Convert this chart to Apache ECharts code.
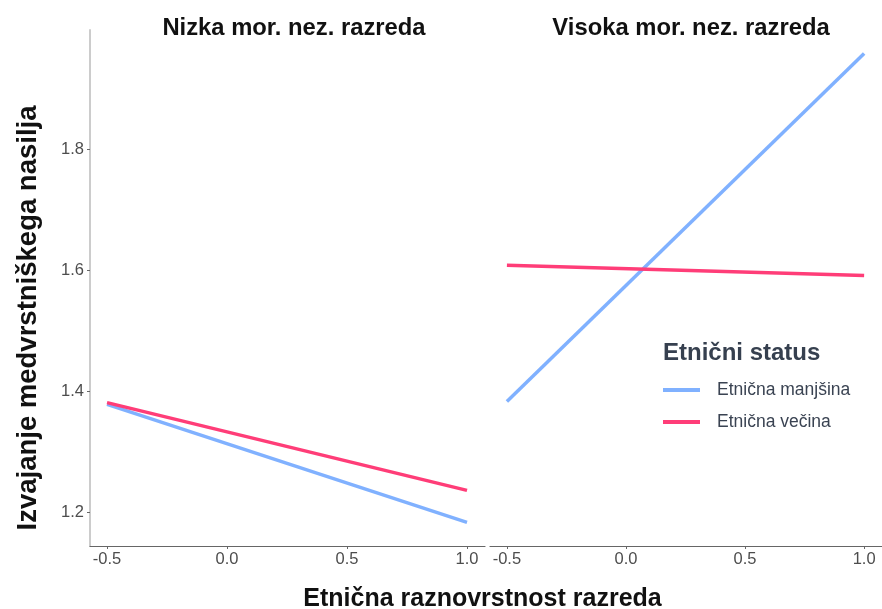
<!DOCTYPE html>
<html><head><meta charset="utf-8">
<script src="https://cdn.jsdelivr.net/npm/echarts@6/dist/echarts.min.js"></script>
<style>html,body{margin:0;padding:0;background:#fff}#c{width:882px;height:609px}</style>
</head><body><div id="c"></div>
<script>
const panels = ['Nizka mor. nez. razreda', 'Visoka mor. nez. razreda'];
const groups = ['Etnična manjšina', 'Etnična večina'];
const xPoints = [-0.5, 1.0];
const lowMinority = [1.378, 1.183];
const lowMajority = [1.381, 1.236];
const highMinority = [1.383, 1.958];
const highMajority = [1.608, 1.591];
const xTicks = [-0.5, 0.0, 0.5, 1.0];
const yTicks = [1.2, 1.4, 1.6, 1.8];
const colors = ['#80b1ff', '#ff3d78'];

const font = 'Liberation Sans, Arial, sans-serif';
const pairs = (ys) => xPoints.map((x, i) => [x, ys[i]]);

const chart = echarts.init(document.getElementById('c'));
const xAxisBase = (gi) => ({
  type: 'value', gridIndex: gi, min: -0.571, max: 1.075,
  splitLine: {show: false},
  axisLine: {show: true, onZero: false, lineStyle: {color: '#666', width: 1.2}},
  axisTick: {show: true, customValues: xTicks, length: 3, lineStyle: {color: '#666'}},
  axisLabel: {customValues: xTicks, color: '#4d4d4d', fontSize: 16.5, fontFamily: font, margin: 5,
    formatter: v => v.toFixed(1)}
});
chart.setOption({
  animation: false,
  title: [
    {text: panels[0], left: 289, top: 11, textAlign: 'center',
      textStyle: {fontSize: 23.8, fontWeight: 'bold', color: '#111', fontFamily: font}},
    {text: panels[1], left: 686, top: 11, textAlign: 'center',
      textStyle: {fontSize: 23.8, fontWeight: 'bold', color: '#111', fontFamily: font}}
  ],
  grid: [
    {left: 90, width: 395, top: 30, height: 516, outerBoundsMode: 'none', containLabel: false},
    {left: 490, width: 392, top: 30, height: 516, outerBoundsMode: 'none', containLabel: false}
  ],
  xAxis: [
    Object.assign(xAxisBase(0), {name: 'Etnična raznovrstnost razreda', nameLocation: 'middle', nameGap: 41,
      nameTextStyle: {fontSize: 25, fontWeight: 'bold', color: '#111', fontFamily: font, padding: [0, 0, 0, 390]}}),
    xAxisBase(1)
  ],
  yAxis: [
    {type: 'value', gridIndex: 0, min: 1.144, max: 1.997,
      splitLine: {show: false},
      axisLine: {show: true, onZero: false, lineStyle: {color: '#cccccc', width: 2}},
      axisTick: {show: true, customValues: yTicks, length: 3, lineStyle: {color: '#666'}},
      axisLabel: {customValues: yTicks, color: '#4d4d4d', fontSize: 16.5, fontFamily: font, margin: 6,
        formatter: v => v.toFixed(1)},
      name: 'Izvajanje medvrstniškega nasilja', nameLocation: 'middle', nameGap: 48,
      nameTextStyle: {fontSize: 27.5, fontWeight: 'bold', color: '#111', fontFamily: font, padding: [0, 60, 0, 0]}
    },
    {type: 'value', gridIndex: 1, min: 1.144, max: 1.997,
      splitLine: {show: false}, axisLine: {show: false, onZero: false}, axisTick: {show: false}, axisLabel: {show: false}}
  ],
  legend: {
    orient: 'vertical', left: 658, top: 376, itemWidth: 37, itemHeight: 4, itemGap: 14,
    icon: 'rect', data: groups,
    textStyle: {fontSize: 17.5, color: '#3a4352', fontFamily: font, padding: [0, 0, 0, 12]}
  },
  graphic: [
    {type: 'text', left: 663, top: 341, style: {text: 'Etnični status', fontSize: 24, fontWeight: 'bold',
      fill: '#36404f', fontFamily: font}}
  ],
  series: [
    {name: groups[0], type: 'line', xAxisIndex: 0, yAxisIndex: 0, data: pairs(lowMinority), showSymbol: false, lineStyle: {width: 3.5, color: colors[0]}, itemStyle: {color: colors[0]}},
    {name: groups[1], type: 'line', xAxisIndex: 0, yAxisIndex: 0, data: pairs(lowMajority), showSymbol: false, lineStyle: {width: 3.5, color: colors[1]}, itemStyle: {color: colors[1]}},
    {name: groups[0], type: 'line', xAxisIndex: 1, yAxisIndex: 1, data: pairs(highMinority), showSymbol: false, lineStyle: {width: 3.5, color: colors[0]}, itemStyle: {color: colors[0]}},
    {name: groups[1], type: 'line', xAxisIndex: 1, yAxisIndex: 1, data: pairs(highMajority), showSymbol: false, lineStyle: {width: 3.5, color: colors[1]}, itemStyle: {color: colors[1]}}
  ]
});
</script></body></html>
